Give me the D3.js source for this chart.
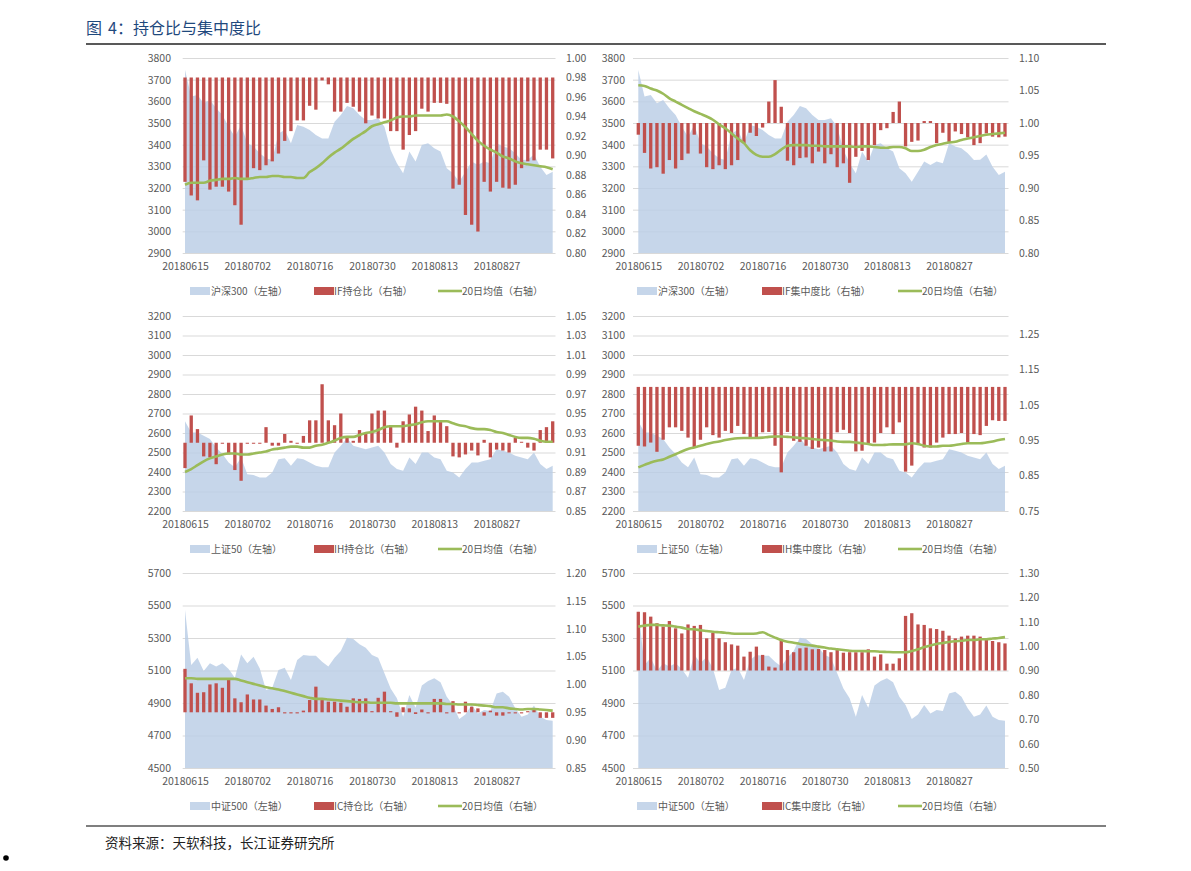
<!DOCTYPE html>
<html><head><meta charset="utf-8">
<script src="https://cdn.jsdelivr.net/npm/d3@7"></script>
<style>
body{margin:0;background:#fff;}
svg{display:block;}
text{font-family:"Noto Sans CJK SC","Noto Sans",sans-serif;}
</style>
</head><body>
<svg id="c" width="1191" height="871"></svg>
<script>
// ---------- DATA ----------
const dates = ["20180615","20180619","20180620","20180621","20180622","20180625","20180626","20180627","20180628","20180629",
"20180702","20180703","20180704","20180705","20180706","20180709","20180710","20180711","20180712","20180713",
"20180716","20180717","20180718","20180719","20180720","20180723","20180724","20180725","20180726","20180727",
"20180730","20180731","20180801","20180802","20180803","20180806","20180807","20180808","20180809","20180810",
"20180813","20180814","20180815","20180816","20180817","20180820","20180821","20180822","20180823","20180824",
"20180827","20180828","20180829","20180830","20180831","20180903","20180904","20180905","20180906","20180907"];
const xTickLabels = ["20180615","20180702","20180716","20180730","20180813","20180827"];

const hs300 = [3745,3622,3629,3591,3606,3568,3537,3483,3437,3491,3406,3391,3360,3337,3329,3452,3468,3406,3491,3483,
3468,3445,3429,3429,3506,3537,3578,3568,3537,3514,3514,3522,3483,3375,3314,3268,3368,3322,3398,3406,
3383,3368,3291,3268,3229,3275,3322,3306,3322,3314,3406,3391,3383,3360,3329,3330,3355,3298,3260,3275];
const sz50 = [2660,2603,2603,2586,2569,2526,2492,2449,2424,2475,2389,2384,2372,2372,2398,2466,2470,2432,2470,2466,
2449,2432,2424,2424,2500,2534,2575,2534,2526,2517,2526,2534,2500,2441,2415,2406,2475,2441,2500,2500,
2475,2466,2406,2398,2372,2415,2449,2449,2458,2466,2517,2509,2500,2483,2475,2466,2500,2441,2415,2432];
const zz500 = [5472,5134,5179,5097,5144,5124,5144,5109,5056,5199,5144,5185,5113,4980,4994,5103,5117,5042,5165,5195,
5191,5191,5154,5124,5179,5220,5302,5294,5261,5240,5195,5179,5083,4990,4929,4816,4949,4871,5007,5035,
5052,5027,4939,4888,4802,4830,4888,4836,4857,4851,4959,4970,4939,4867,4816,4830,4884,4816,4795,4791];

const ifHold = [0.873,0.859,0.854,0.895,0.865,0.868,0.868,0.863,0.849,0.829,0.877,0.887,0.885,0.890,0.894,0.902,0.915,0.925,0.936,0.936,
0.951,0.947,0.977,0.973,0.945,0.945,0.954,0.950,0.945,0.933,0.941,0.938,0.938,0.925,0.925,0.906,0.921,0.925,0.948,0.945,
0.954,0.954,0.953,0.866,0.870,0.839,0.829,0.822,0.873,0.863,0.873,0.867,0.866,0.870,0.887,0.894,0.895,0.906,0.906,0.897];
const ifHoldMA = [0.870,0.872,0.872,0.872,0.874,0.875,0.876,0.876,0.877,0.876,0.876,0.877,0.878,0.878,0.879,0.879,0.878,0.878,0.877,0.877,
0.883,0.887,0.892,0.898,0.903,0.907,0.912,0.917,0.921,0.925,0.930,0.932,0.934,0.936,0.939,0.940,0.940,0.941,0.941,0.941,
0.941,0.941,0.942,0.940,0.935,0.929,0.922,0.915,0.910,0.906,0.903,0.899,0.897,0.894,0.892,0.891,0.890,0.889,0.888,0.886];

const ifConc = [0.982,0.954,0.930,0.932,0.922,0.943,0.930,0.943,0.953,0.982,0.953,0.932,0.929,0.935,0.929,0.935,0.943,0.969,0.985,0.980,
0.993,1.033,1.066,1.025,0.942,0.935,0.946,0.947,0.938,0.956,0.938,0.952,0.932,0.938,0.908,0.948,0.957,0.943,0.966,0.989,
0.992,1.017,1.033,0.964,0.971,0.973,1.003,1.003,0.969,0.985,0.970,0.987,0.983,0.978,0.966,0.969,0.984,0.979,0.978,0.979];
const ifConcMA = [1.058,1.057,1.053,1.050,1.045,1.038,1.033,1.028,1.023,1.018,1.014,1.010,1.005,0.998,0.992,0.984,0.976,0.969,0.958,0.951,
0.948,0.948,0.952,0.959,0.965,0.966,0.966,0.966,0.965,0.965,0.964,0.964,0.964,0.964,0.964,0.963,0.964,0.964,0.963,0.962,
0.962,0.963,0.963,0.961,0.957,0.957,0.959,0.963,0.966,0.968,0.970,0.971,0.974,0.976,0.978,0.980,0.982,0.983,0.984,0.985];

const ihHold = [0.894,0.948,0.934,0.906,0.905,0.898,0.919,0.908,0.892,0.881,0.919,0.919,0.919,0.936,0.917,0.917,0.929,0.922,0.919,0.927,
0.943,0.943,0.980,0.943,0.938,0.950,0.926,0.922,0.933,0.930,0.950,0.953,0.953,0.938,0.915,0.942,0.949,0.957,0.953,0.932,
0.948,0.943,0.937,0.906,0.905,0.908,0.912,0.907,0.923,0.905,0.913,0.912,0.910,0.925,0.921,0.915,0.912,0.933,0.936,0.942];
const ihHoldMA = [0.890,0.893,0.897,0.901,0.904,0.906,0.908,0.909,0.909,0.908,0.908,0.909,0.910,0.911,0.913,0.914,0.915,0.916,0.916,0.915,
0.915,0.917,0.918,0.920,0.922,0.925,0.926,0.926,0.928,0.930,0.931,0.933,0.936,0.937,0.937,0.937,0.938,0.939,0.941,0.942,
0.942,0.942,0.942,0.940,0.938,0.937,0.935,0.934,0.934,0.933,0.931,0.930,0.928,0.926,0.925,0.925,0.924,0.922,0.921,0.921];

const ihConc = [0.934,0.932,0.943,0.917,0.951,0.986,0.986,0.976,0.957,0.929,0.951,0.986,0.964,0.957,0.976,0.970,0.990,0.967,0.953,0.955,
0.972,0.973,0.934,0.859,0.973,0.948,0.945,0.934,0.925,0.929,0.918,0.918,0.972,0.979,0.970,0.918,0.920,0.939,0.943,0.970,
0.986,0.967,1.000,0.861,0.878,0.936,0.929,0.929,0.943,0.957,0.967,0.967,0.970,0.943,0.967,0.964,0.990,1.006,1.004,1.004];
const ihConcMA = [0.873,0.880,0.887,0.892,0.895,0.903,0.910,0.918,0.925,0.929,0.934,0.939,0.943,0.946,0.950,0.953,0.955,0.956,0.956,0.956,
0.957,0.959,0.960,0.960,0.959,0.958,0.956,0.955,0.953,0.951,0.950,0.949,0.946,0.945,0.945,0.943,0.941,0.939,0.936,0.936,
0.937,0.938,0.938,0.938,0.941,0.939,0.934,0.932,0.932,0.934,0.934,0.936,0.939,0.941,0.941,0.941,0.943,0.946,0.950,0.953];

const icHold = [1.028,1.002,0.985,0.986,1.000,1.002,0.994,1.008,0.975,0.968,0.982,0.973,0.973,0.962,0.956,0.959,0.948,0.948,0.948,0.953,
0.972,0.996,0.972,0.969,0.969,0.967,0.960,0.975,0.974,0.975,0.952,0.976,0.987,0.952,0.942,0.959,0.957,0.947,0.955,0.948,
0.974,0.974,0.948,0.970,0.948,0.969,0.960,0.957,0.944,0.953,0.944,0.944,0.948,0.948,0.948,0.952,0.956,0.940,0.940,0.940];
const icHoldMA = [1.011,1.011,1.010,1.010,1.010,1.010,1.010,1.010,1.010,1.007,1.004,1.001,0.998,0.995,0.993,0.991,0.988,0.985,0.982,0.979,
0.976,0.974,0.974,0.973,0.972,0.971,0.970,0.969,0.968,0.968,0.967,0.967,0.967,0.967,0.966,0.966,0.966,0.966,0.966,0.966,
0.966,0.966,0.965,0.965,0.964,0.964,0.964,0.963,0.962,0.961,0.959,0.959,0.957,0.956,0.955,0.956,0.956,0.955,0.954,0.953];

const icConc = [1.141,1.139,1.121,1.094,1.080,1.103,1.073,1.052,1.089,1.083,1.087,1.032,1.055,1.032,1.016,1.007,1.002,0.957,0.977,0.998,
0.964,0.916,0.912,1.025,0.984,0.975,0.991,0.994,0.987,0.988,0.984,0.975,0.984,0.973,0.975,0.975,0.975,0.987,0.957,0.966,
0.928,0.928,0.950,1.124,1.135,1.089,1.087,1.073,1.070,1.063,1.043,1.032,1.039,1.043,1.043,1.039,1.025,1.021,1.016,1.011];
const icConcMA = [1.080,1.084,1.087,1.087,1.085,1.084,1.080,1.076,1.070,1.069,1.065,1.062,1.059,1.057,1.055,1.052,1.051,1.051,1.051,1.052,
1.057,1.046,1.035,1.025,1.018,1.014,1.009,1.005,1.002,0.998,0.994,0.990,0.987,0.984,0.981,0.980,0.980,0.979,0.979,0.977,
0.976,0.975,0.975,0.975,0.980,0.987,0.996,1.003,1.009,1.013,1.017,1.020,1.022,1.025,1.025,1.028,1.028,1.031,1.033,1.037];

const ticksHS = [2900,3000,3100,3200,3300,3400,3500,3600,3700,3800];
const ticksSZ = [2200,2300,2400,2500,2600,2700,2800,2900,3000,3100,3200];
const ticksZZ = [4500,4700,4900,5100,5300,5500,5700];
const rTicks1 = [0.80,0.82,0.84,0.86,0.88,0.90,0.92,0.94,0.96,0.98,1.00];
const rTicks2 = [0.80,0.85,0.90,0.95,1.00,1.05,1.10];
const rTicks3 = [0.85,0.87,0.89,0.91,0.93,0.95,0.97,0.99,1.01,1.03,1.05];
const rTicks4 = [0.75,0.85,0.95,1.05,1.15,1.25];
const rTicks5 = [0.85,0.90,0.95,1.00,1.05,1.10,1.15,1.20];
const rTicks6 = [0.50,0.60,0.70,0.80,0.90,1.00,1.10,1.20,1.30];

// ---------- LAYOUT ----------
const AREA_C = "#b9cde5", BAR_C = "#c0504d", LINE_C = "#9bbb59", TXT_C = "#595959", GRID_C = "#d9d9d9";
const L = {x0:185, x1:552.7, gx0:182.7, gx1:555.5, lLab:171, rLab:566, leg:[190,314,438]};
const R = {x0:638.3, x1:1005, gx0:633, gx1:1008.5, lLab:625, rLab:1019, leg:[637,762,898]};
const rows = [{top:58, bot:253, legY:291}, {top:316, bot:511, legY:549}, {top:573, bot:768, legY:806}];

const panels = [
  Object.assign({}, L, rows[0], {area:hs300, bars:ifHold, ma:ifHoldMA, lDom:[2900,3800], lTicks:ticksHS, rDom:[0.80,1.00], rTicks:rTicks1, base:0.98,
     names:["沪深300（左轴）","IF持仓比（右轴）","20日均值（右轴）"]}),
  Object.assign({}, R, rows[0], {area:hs300, bars:ifConc, ma:ifConcMA, lDom:[2900,3800], lTicks:ticksHS, rDom:[0.80,1.10], rTicks:rTicks2, base:1.00,
     names:["沪深300（左轴）","IF集中度比（右轴）","20日均值（右轴）"]}),
  Object.assign({}, L, rows[1], {area:sz50, bars:ihHold, ma:ihHoldMA, lDom:[2200,3200], lTicks:ticksSZ, rDom:[0.85,1.05], rTicks:rTicks3, base:0.92,
     names:["上证50（左轴）","IH持仓比（右轴）","20日均值（右轴）"]}),
  Object.assign({}, R, rows[1], {area:sz50, bars:ihConc, ma:ihConcMA, lDom:[2200,3200], lTicks:ticksSZ, rDom:[0.75,1.30], rTicks:rTicks4, base:1.10,
     names:["上证50（左轴）","IH集中度比（右轴）","20日均值（右轴）"]}),
  Object.assign({}, L, rows[2], {area:zz500, bars:icHold, ma:icHoldMA, lDom:[4500,5700], lTicks:ticksZZ, rDom:[0.85,1.20], rTicks:rTicks5, base:0.95,
     names:["中证500（左轴）","IC持仓比（右轴）","20日均值（右轴）"]}),
  Object.assign({}, R, rows[2], {area:zz500, bars:icConc, ma:icConcMA, lDom:[4500,5700], lTicks:ticksZZ, rDom:[0.50,1.30], rTicks:rTicks6, base:0.90,
     names:["中证500（左轴）","IC集中度比（右轴）","20日均值（右轴）"]})
];

const svg = d3.select("#c");

// title
const title = svg.append("text").attr("y",34).attr("font-size",16).attr("fill","#1f497d");
title.append("tspan").attr("x",86).text("图");
title.append("tspan").attr("x",108).text("4：持仓比与集中度比");
svg.append("line").attr("x1",86).attr("x2",1106).attr("y1",44).attr("y2",44).attr("stroke","#222").attr("stroke-width",1.3);

panels.forEach(p => {
  const g = svg.append("g");
  const x = d3.scalePoint().domain(dates).range([p.x0, p.x1]);
  const yL = d3.scaleLinear().domain(p.lDom).range([p.bot, p.top]);
  const yR = d3.scaleLinear().domain(p.rDom).range([p.bot, p.top]);

  // gridlines
  const grid = g.append("g").attr("transform", `translate(${p.gx0},0)`)
    .call(d3.axisLeft(yL).tickValues(p.lTicks).tickSize(-(p.gx1 - p.gx0)).tickFormat(""));
  grid.select(".domain").remove();
  grid.selectAll("line").attr("stroke", GRID_C).attr("stroke-width", 1);

  // area
  g.append("path").datum(p.area)
    .attr("fill", AREA_C).attr("fill-opacity", 0.82)
    .attr("d", d3.area().x((d,i) => x(dates[i])).y0(yL(p.lDom[0])).y1(d => yL(d)));

  // bars
  g.append("g").selectAll("rect").data(p.bars).join("rect")
    .attr("x", (d,i) => x(dates[i]) - 1.65)
    .attr("width", 3.3)
    .attr("y", d => Math.min(yR(d), yR(p.base)))
    .attr("height", d => Math.max(1, Math.abs(yR(d) - yR(p.base))))
    .attr("fill", BAR_C);

  // MA line
  g.append("path").datum(p.ma)
    .attr("fill","none").attr("stroke", LINE_C).attr("stroke-width", 2.6).attr("stroke-linejoin","round")
    .attr("d", d3.line().x((d,i) => x(dates[i])).y(d => yR(d)).curve(d3.curveMonotoneX));

  // left axis labels
  const la = g.append("g").attr("transform", `translate(${p.lLab},0)`)
    .call(d3.axisLeft(yL).tickValues(p.lTicks).tickSize(0).tickPadding(0).tickFormat(d3.format("d")));
  la.select(".domain").remove();
  la.selectAll("text").attr("font-size", 10.5).attr("fill", TXT_C).attr("font-family", '"Noto Sans CJK SC","Noto Sans",sans-serif');

  // right axis labels
  const ra = g.append("g").attr("transform", `translate(${p.rLab},0)`)
    .call(d3.axisRight(yR).tickValues(p.rTicks).tickSize(0).tickPadding(0).tickFormat(d3.format(".2f")));
  ra.select(".domain").remove();
  ra.selectAll("text").attr("font-size", 10.5).attr("fill", TXT_C).attr("font-family", '"Noto Sans CJK SC","Noto Sans",sans-serif');

  // x axis labels
  const xa = g.append("g").attr("transform", `translate(0,${p.bot})`)
    .call(d3.axisBottom(x).tickValues(xTickLabels).tickSize(0).tickPadding(10));
  xa.select(".domain").remove();
  xa.selectAll("text").attr("font-size", 10.5).attr("fill", TXT_C).attr("font-family", '"Noto Sans CJK SC","Noto Sans",sans-serif');

  // legend
  const lg = g.append("g").attr("font-size", 10).attr("fill", TXT_C);
  const ly = p.legY;
  lg.append("rect").attr("x", p.leg[0]).attr("y", ly - 4).attr("width", 20).attr("height", 8).attr("fill", AREA_C).attr("fill-opacity",0.82);
  lg.append("text").attr("x", p.leg[0] + 21).attr("y", ly).attr("dy","0.35em").text(p.names[0]);
  lg.append("rect").attr("x", p.leg[1]).attr("y", ly - 4).attr("width", 20).attr("height", 8).attr("fill", BAR_C);
  lg.append("text").attr("x", p.leg[1] + 20).attr("y", ly).attr("dy","0.35em").text(p.names[1]);
  lg.append("line").attr("x1", p.leg[2]).attr("x2", p.leg[2] + 24).attr("y1", ly).attr("y2", ly).attr("stroke", LINE_C).attr("stroke-width", 2.6);
  lg.append("text").attr("x", p.leg[2] + 24).attr("y", ly).attr("dy","0.35em").text(p.names[2]);
});

// footer
svg.append("line").attr("x1",86).attr("x2",1106).attr("y1",826).attr("y2",826).attr("stroke","#555").attr("stroke-width",1.3);
svg.append("text").attr("x",105).attr("y",843).attr("dy","0.35em").attr("font-size",13.5).attr("fill","#222").text("资料来源：天软科技，长江证券研究所");
svg.append("circle").attr("cx",6).attr("cy",858).attr("r",2.8).attr("fill","#000");
</script>
</body></html>
